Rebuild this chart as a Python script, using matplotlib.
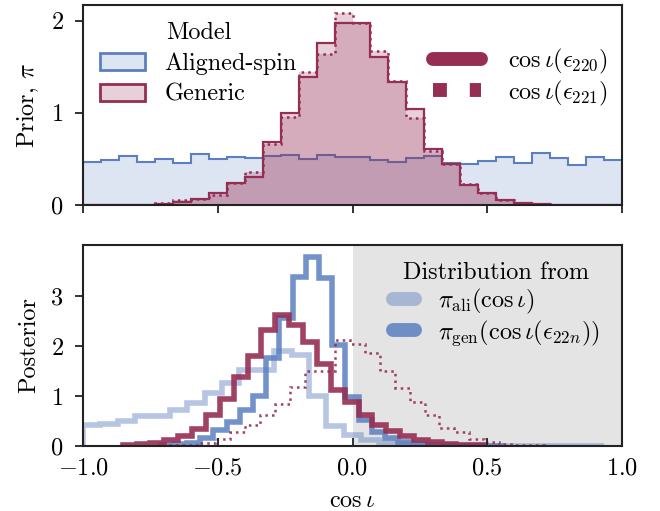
import numpy as np
import matplotlib
matplotlib.use("Agg")
import matplotlib.pyplot as plt
from matplotlib.patches import Patch
from matplotlib.lines import Line2D

plt.rcParams['font.family'] = ['cmr10', 'DejaVu Serif']
plt.rcParams['mathtext.fontset'] = 'cm'
plt.rcParams['axes.formatter.use_mathtext'] = True
plt.rcParams['font.size'] = 17.5
plt.rcParams['axes.unicode_minus'] = True

blue = '#5b7fc0'
red = '#962d52'

# prior histograms, 30 bins on [-1, 1]
prior_edges = np.linspace(-1, 1, 31)
prior_aligned = [0.47, 0.49, 0.53, 0.47, 0.50, 0.46, 0.55, 0.50, 0.525, 0.51,
                 0.53, 0.54, 0.50, 0.54, 0.52, 0.52, 0.49, 0.47, 0.51, 0.53,
                 0.46, 0.45, 0.48, 0.52, 0.46, 0.56, 0.51, 0.43, 0.525, 0.49]
prior_gen_220 = [0, 0, 0, 0, 0.01, 0.03, 0.06, 0.13, 0.24, 0.30,
                 0.68, 1.00, 1.39, 1.76, 1.97, 1.97, 1.61, 1.34, 1.04, 0.605,
                 0.45, 0.22, 0.13, 0.05, 0.025, 0.01, 0, 0, 0, 0]
prior_gen_221 = [0, 0, 0, 0, 0.02, 0.05, 0.07, 0.11, 0.235, 0.36,
                 0.66, 0.96, 1.44, 1.64, 2.08, 1.97, 1.67, 1.35, 0.94, 0.59,
                 0.45, 0.23, 0.13, 0.05, 0.025, 0.01, 0, 0, 0, 0]

# posteriors
post_ali = [0.42, 0.44, 0.51, 0.60, 0.60, 0.72, 0.87, 1.07, 1.27, 1.52,
            1.52, 1.90, 1.82, 1.00, 0.40, 0.22, 0.12, 0.07, 0.04, 0.03,
            0.02, 0.02, 0.015, 0.01, 0.01, 0.01, 0.01, 0.01, 0.01, 0.01]
post_ali_edges = np.linspace(-1, 0.935, 31)

post_gen = [0.02, 0.04, 0.07, 0.16, 0.32, 0.49, 0.72, 1.00, 1.76, 2.56,
            3.39, 3.79, 3.37, 2.02, 0.99, 0.52, 0.29, 0.16, 0.09, 0.05,
            0.03, 0.02, 0.01, 0.01, 0.005, 0.005]
post_gen_edges = np.linspace(-0.712, -0.712 + 0.049 * 26, 27)

post_220 = [0.03, 0.04, 0.06, 0.12, 0.20, 0.35, 0.62, 0.95, 1.39, 1.80,
            2.32, 2.62, 2.42, 2.09, 1.65, 1.12, 0.89, 0.62, 0.42, 0.30,
            0.20, 0.13, 0.08, 0.05, 0.03, 0.02]
post_220_edges = np.linspace(-0.853, -0.853 + 0.0515 * 26, 27)

post_221 = [0.02, 0.03, 0.06, 0.15, 0.29, 0.42, 0.62, 0.85, 1.19, 1.50,
            1.50, 2.12, 2.04, 1.87, 1.51, 1.17, 0.89, 0.62, 0.37, 0.29,
            0.15, 0.09, 0.05, 0.03, 0.02, 0.01]
post_221_edges = np.linspace(-0.678, -0.678 + 0.0556 * 26, 27)

fig = plt.figure(figsize=(6.6, 5.11), dpi=100)
ax1 = fig.add_axes([0.1258, 0.5988, 0.8166, 0.3914])
ax2 = fig.add_axes([0.1258, 0.1272, 0.8166, 0.3933])

# top panel
ax1.stairs(prior_aligned, prior_edges, fill=True, color=blue, alpha=0.2, lw=0)
ax1.stairs(prior_aligned, prior_edges, color=blue, lw=1.5)
ax1.stairs(prior_gen_220, prior_edges, fill=True, color=red, alpha=0.22, lw=0)
ax1.stairs(prior_gen_221, prior_edges, fill=True, color=red, alpha=0.22, lw=0)
ax1.stairs(prior_gen_220, prior_edges, color=red, lw=1.6)
ax1.stairs(prior_gen_221, prior_edges, color=red, lw=1.8, ls=':')
ax1.set_xlim(-1, 1)
ax1.set_ylim(0, 2.17)
ax1.set_yticks([0, 1, 2])
ax1.set_xticks([-1, -0.5, 0, 0.5, 1])
ax1.set_xticklabels([])
ax1.set_ylabel(r'Prior, $\pi$', labelpad=7)

h_model = [Patch(facecolor=(0.357, 0.498, 0.753, 0.2), edgecolor=blue, lw=2),
           Patch(facecolor=(0.588, 0.176, 0.322, 0.22), edgecolor=red, lw=2)]
leg1 = ax1.legend(h_model, ['Aligned-spin', 'Generic'], title='Model',
                  loc='upper left', bbox_to_anchor=(0.0, 1.0), frameon=False,
                  borderaxespad=0.3, handletextpad=0.8, labelspacing=0.35,
                  handlelength=1.85)
ax1.add_artist(leg1)
h_mode = [Line2D([], [], color=red, lw=10, solid_capstyle='round'),
          Line2D([], [], color=red, lw=10, ls=':')]
ax1.legend(h_mode, [r'$\cos\iota(\epsilon_{220})$', r'$\cos\iota(\epsilon_{221})$'],
           loc='upper right', bbox_to_anchor=(1.015, 0.9), frameon=False,
           handlelength=2.0, handletextpad=1.1, labelspacing=0.1)

# bottom panel
ax2.axvspan(0, 1, color='#e4e4e4', lw=0, zorder=0)
ax2.stairs(post_ali, post_ali_edges, color=blue, alpha=0.45, lw=4)
ax2.stairs(post_gen, post_gen_edges, color=blue, alpha=0.85, lw=4)
ax2.stairs(post_220, post_220_edges, color=red, alpha=0.9, lw=4)
ax2.stairs(post_221, post_221_edges, color=red, alpha=0.9, lw=1.8, ls=':')
ax2.set_xlim(-1, 1)
ax2.set_ylim(0, 4.02)
ax2.set_yticks([0, 1, 2, 3])
ax2.set_xticks([-1, -0.5, 0, 0.5, 1])
ax2.set_xticklabels(['$-1.0$', '$-0.5$', '$0.0$', '$0.5$', '$1.0$'])
ax2.set_ylabel('Posterior', labelpad=7)
ax2.set_xlabel(r'$\cos\iota$', labelpad=8)
h_dist = [Line2D([], [], color=blue, alpha=0.45, lw=10, solid_capstyle='round'),
          Line2D([], [], color=blue, alpha=0.85, lw=10, solid_capstyle='round')]
ax2.legend(h_dist, [r'$\pi_{\rm ali}(\cos\iota)$', r'$\pi_{\rm gen}(\cos\iota(\epsilon_{22n}))$'],
           title='Distribution from', loc='upper right', frameon=False,
           handlelength=0.9, handletextpad=0.95, labelspacing=0.1,
           borderaxespad=0.3, bbox_to_anchor=(0.99, 1.0))

for ax in (ax1, ax2):
    for s in ax.spines.values():
        s.set_linewidth(1.5)
        s.set_color('#222222')
    ax.tick_params(axis='y', direction='out', length=6, width=1.3, pad=8, color='#222222')
ax1.tick_params(axis='x', direction='out', length=6, width=1.3, color='#222222')
ax2.tick_params(axis='x', direction='in', length=6, width=1.3, pad=8, color='#222222')

fig.savefig('out.png', dpi=100)
